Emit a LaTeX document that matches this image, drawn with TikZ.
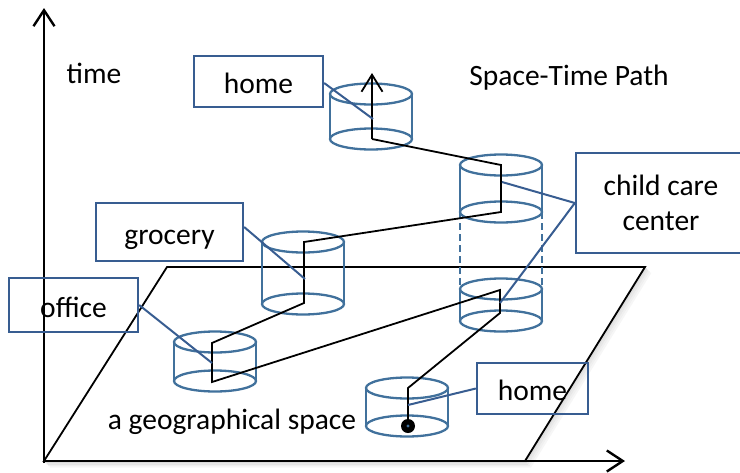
\documentclass[tikz,border=0pt]{standalone}
\usepackage{fontspec}
\setmainfont{Carlito}
\usetikzlibrary{arrows.meta}
\definecolor{cylblue}{RGB}{65,113,156}
\definecolor{boxblue}{RGB}{56,93,145}
\newcommand\mycyl[3]{%
  \draw[cylrim] (#1,#2) ellipse [x radius=41, y radius=10.5];
  \draw[cylrim] (#1,#3) ellipse [x radius=41, y radius=10.5];
  \draw[cylside] (#1-41,#2) -- (#1-41,#3) (#1+41,#2) -- (#1+41,#3);}
\begin{document}
\begin{tikzpicture}[x=1pt,y=-1pt,
  lbl/.style={font=\fontsize{29.5}{35}\selectfont, text=black, inner sep=0pt},
  labelbox/.style={draw=boxblue, line width=2.3pt, inner sep=0pt, font=\fontsize{29.5}{35}\selectfont, align=center, text height=30pt, text depth=6pt},
  pathline/.style={black, line width=1.8pt},
  axis/.style={black, line width=2.4pt, -{Straight Barb[length=16pt,width=21pt]}},
  leader/.style={boxblue, line width=2pt},
  cylrim/.style={cylblue, line width=2.3pt},
  cylside/.style={cylblue, line width=1.4pt},
  planeedge/.style={black, line width=1.8pt},
]
\useasboundingbox (0,0) rectangle (740,472);

% plane corners
\coordinate (O) at (44,461);
\coordinate (TL) at (167,267);
\coordinate (TR) at (645,267);
\coordinate (BR) at (525,461);

% soft shadow of the plane
\foreach \s/\o in {1/0.25,2.5/0.18,4/0.12,5.5/0.07}{
  \draw[gray, line width=2pt, opacity=\o] ([shift={(\s,\s)}]TR) -- ([shift={(\s,\s)}]BR) -- ([shift={(\s,\s)}]O);
}
\draw[planeedge] (O) -- (TL) -- (TR) -- (BR) -- cycle;

% axes
\coordinate (ytip) at (44,8);
\coordinate (xtip) at (625,461);
\draw[axis] (44,463) -- (ytip);
\draw[axis] (43,461) -- (xtip);

% cylinders
\mycyl{371}{94}{139}
\mycyl{501}{165}{212}
\mycyl{501}{289}{321}
\mycyl{303}{242}{304}
\mycyl{215}{342}{381}
\mycyl{407}{388}{426}
\draw[cylside, dashed, dash pattern=on 7pt off 4pt] (460,212) -- (460,289) (542,212) -- (542,289);

% space-time path
\coordinate (p0) at (408,426);
\coordinate (p1) at (408,388);
\coordinate (p2) at (500,313);
\coordinate (p3) at (500,290);
\coordinate (p4) at (212,382);
\coordinate (p5) at (212,343);
\coordinate (p6) at (304,303);
\coordinate (p7) at (304,242);
\coordinate (p8) at (501,212);
\coordinate (p9) at (501,165);
\coordinate (p10) at (372,139);
\coordinate (p11) at (372,73);
\draw[pathline, line join=miter] (p0) -- (p1) -- (p2) -- (p3) -- (p4) -- (p5) -- (p6) -- (p7) -- (p8) -- (p9) -- (p10);
\draw[pathline, -{Straight Barb[length=17pt,width=21pt]}] (p10) -- (p11);
\fill[black] (p0) circle (7);
\fill[cylblue] (p0) circle (1.6);

% label boxes
\node[labelbox, minimum width=129pt, minimum height=51pt] (homeT) at (258.5,81.5) {home};
\node[labelbox, minimum width=170pt, minimum height=100pt, text height=60pt, text depth=6pt] (care) at (661,203) {child care\\center};
\node[labelbox, minimum width=147pt, minimum height=58pt] (groc) at (169.5,232) {grocery};
\node[labelbox, minimum width=129pt, minimum height=54pt] (office) at (73.5,305) {office};
\node[labelbox, minimum width=111pt, minimum height=51pt] (homeL) at (532.5,388.5) {home};

% leaders
\coordinate (a1) at (373,119);
\coordinate (a2) at (502,182);
\coordinate (a3) at (500,303);
\coordinate (a4) at (305,279);
\coordinate (a5) at (212,363);
\coordinate (a6) at (408,405);
\draw[leader] ([yshift=-1.5pt]homeT.east) -- (a1);
\draw[leader] (care.west) -- (a2);
\draw[leader] (care.west) -- (a3);
\draw[leader] ([yshift=5pt]groc.east) -- (a4);
\draw[leader] (office.east) -- (a5);
\draw[leader] (homeL.west) -- (a6);

% free texts
\node[lbl, anchor=base] (time) at (94,83) {time};
\node[lbl, anchor=base] (title) at (569,85) {Space-Time Path};
\node[lbl, anchor=base] (geo) at (232,429) {a geographical space};
\end{tikzpicture}
\end{document}
